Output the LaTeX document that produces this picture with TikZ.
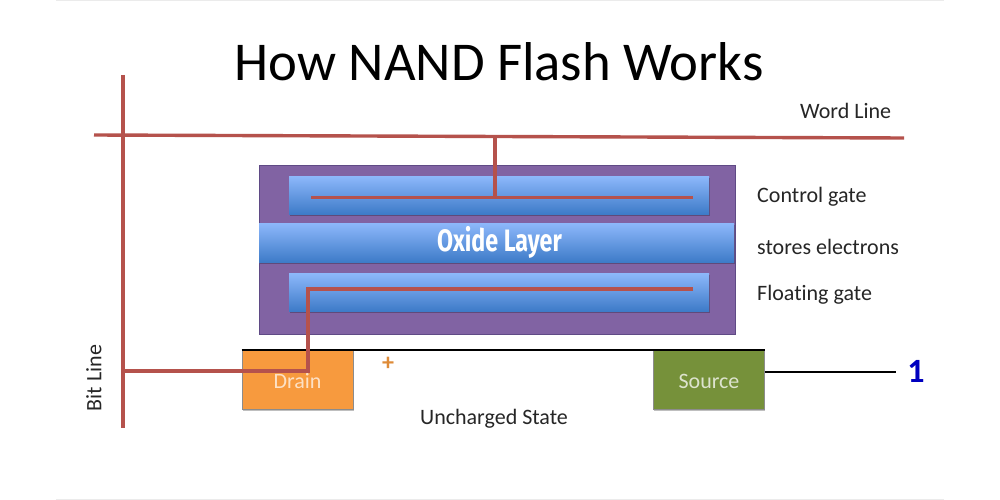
\documentclass[tikz,border=0pt]{standalone}
\usepackage{fontspec}
\usetikzlibrary{shadows}
\setmainfont{Carlito}[Ligatures=NoCommon]
\newfontfamily\cond{Fira Sans}[FakeStretch=0.75]
\definecolor{wire}{HTML}{B5524C}
\definecolor{oxlight}{HTML}{8DB8FB}
\definecolor{oxdark}{HTML}{3E7BC8}
\definecolor{purp}{HTML}{8163A3}
\definecolor{purpedge}{HTML}{5F4A85}
\definecolor{drainc}{HTML}{F79A3E}
\definecolor{srcc}{HTML}{76913A}
\tikzset{
  x=1pt,y=-1pt,
  softshadow/.style={drop shadow={shadow xshift=0.8pt,shadow yshift=-1.5pt,opacity=.25,fill=black}},
  wireline/.style={draw=wire,line width=3.4pt},
  gatebar/.style={draw=none,top color=oxlight,bottom color=oxdark,minimum height=38pt,minimum width=420pt,inner sep=0pt,softshadow},
  lab/.style={font=\fontsize{22}{26}\selectfont,inner sep=0pt,anchor=west,text=black!85},
  term/.style={draw=black!45,line width=.8pt,inner sep=0pt,minimum height=59pt,minimum width=111pt,font=\fontsize{22}{26}\selectfont,softshadow,text height=16pt,text depth=0pt},
  edgeline/.style={draw=black!8,line width=1.5pt}
}
\begin{document}
\begin{tikzpicture}
\useasboundingbox (0,0) rectangle (1000,500);
\fill[white] (0,0) rectangle (1000,500);
\coordinate (ta) at (56,0.5); \coordinate (tb) at (944,0.5);
\coordinate (ba) at (56,499.5); \coordinate (bb2) at (944,499.5);
\draw[edgeline] (ta) -- (tb);
\draw[edgeline] (ba) -- (bb2);
\node (title) at (499,62) {\fontsize{54.7}{60}\selectfont How NAND Flash Works};
\node[lab] (wl) at (800,111) {Word Line};
\node[lab] (cg) at (757,197) {Control gate};
\node[lab] (se) at (757,247) {stores electrons};
\node[lab] (fg) at (757,295) {Floating gate};
\node[lab,anchor=center,rotate=90] (bl) at (94,378) {Bit Line};
\node[lab,anchor=center] (us) at (494,419) {Uncharged State};
\node[draw=purpedge,fill=purp,line width=.8pt,minimum width=476pt,minimum height=169pt,inner sep=0pt] (body) at (497.5,250) {};
\node[gatebar] (cgbar) at (499,195) {};
\node[gatebar] (fgbar) at (499,292) {};
\node[gatebar,minimum width=475pt,minimum height=39pt] (ox) at (496.5,242.5) {\hspace*{6pt}\cond\bfseries\fontsize{31}{34}\selectfont\color{white}Oxide Layer};
\node[term,fill=drainc,text=white!70!drainc] (drain) at (297.5,380) {Drain};
\node[term,fill=srcc,text=white!75!srcc] (source) at (709,380) {Source};
\coordinate (t1) at (drain.north west);
\coordinate (t2) at (source.north east);
\draw[black,line width=1.8pt] (t1) -- (t2);
\coordinate (one) at (896,372);
\draw[black,line width=1.6pt] (source.east |- one) -- (one);
\node[inner sep=0pt,text=blue!75!black,font=\bfseries\fontsize{34}{36}\selectfont] (v) at (916,371) {1};
\node[inner sep=0pt,text=drainc!90!black,font=\bfseries\fontsize{24}{24}\selectfont] (plus) at (388,364) {+};
% wires
\coordinate (bt) at (123,75); \coordinate (bb) at (123,428);
\coordinate (wa) at (94,135); \coordinate (wb) at (904,138);
\coordinate (j) at (495,137);
\draw[wireline] (bt) -- (bb);
\draw[wireline] (wa) -- (wb);
\coordinate (c1) at (311,197.5); \coordinate (c2) at (693,197.5);
\draw[wireline] (c1) -- (c2);
\coordinate (c3) at (495,197.5);
\draw[wireline] (j) -- (c3);
\coordinate (f1) at (693,289); \coordinate (f2) at (308,289); \coordinate (f3) at (308,371); \coordinate (f4) at (123,371);
\draw[wireline] (f1) -- (f2) -- (f3) -- (f4);
\end{tikzpicture}
\end{document}
